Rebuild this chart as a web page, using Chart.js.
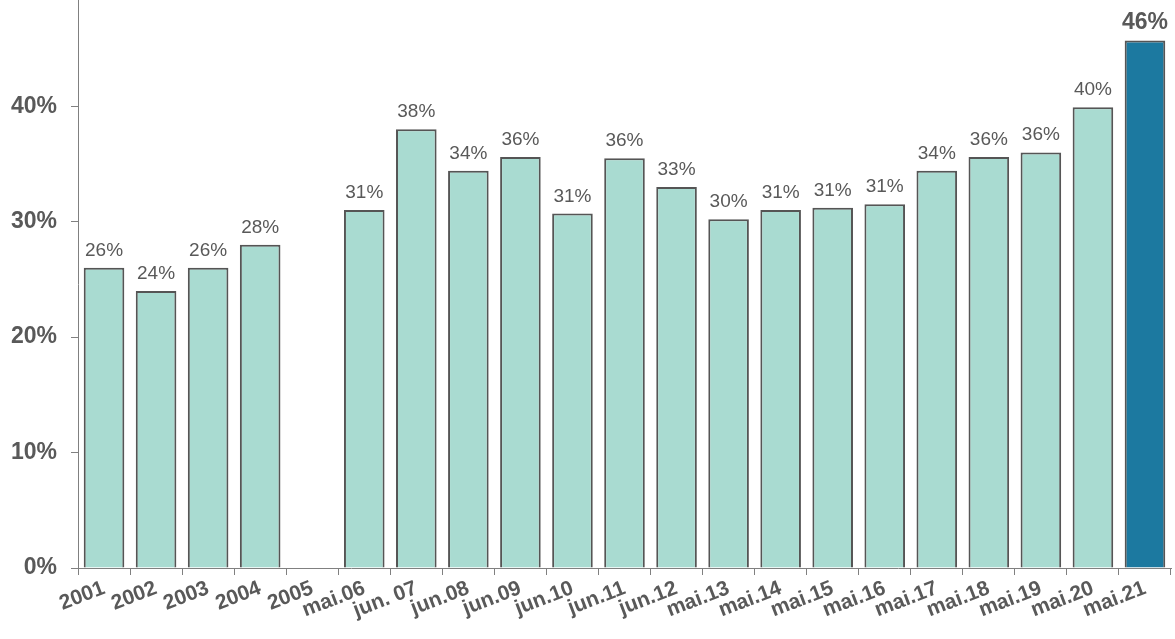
<!DOCTYPE html>
<html>
<head>
<meta charset="utf-8">
<script src="https://cdn.jsdelivr.net/npm/chart.js@4/dist/chart.umd.min.js"></script>
<style>
  html, body { margin: 0; padding: 0; background: #ffffff; }
  #wrap { width: 1175px; height: 639px; position: relative; }
</style>
</head>
<body>
<div id="wrap"><canvas id="c" width="1175" height="639"></canvas></div>
<script>
const categories = ["2001","2002","2003","2004","2005","mai.06","jun. 07","jun.08","jun.09","jun.10","jun.11","jun.12","mai.13","mai.14","mai.15","mai.16","mai.17","mai.18","mai.19","mai.20","mai.21"];
const values = [26.0, 24.0, 26.0, 28.0, null, 31.0, 38.0, 34.4, 35.6, 30.7, 35.5, 33.0, 30.2, 31.0, 31.2, 31.5, 34.4, 35.6, 36.0, 39.9, 45.7];
const valueLabels = ["26%","24%","26%","28%","","31%","38%","34%","36%","31%","36%","33%","30%","31%","31%","31%","34%","36%","36%","40%","46%"];
const yTickValues = [0, 10, 20, 30, 40];

const TEXT = "#595959";
const FILL = "#a9dbd1";
const HIGHLIGHT = "#1c79a0";
const lastIndex = categories.length - 1;

const barLabelPlugin = {
  id: "barLabels",
  afterDatasetsDraw(chart) {
    const ctx = chart.ctx;
    const meta = chart.getDatasetMeta(0);
    ctx.save();
    ctx.textAlign = "center";
    ctx.textBaseline = "alphabetic";
    ctx.fillStyle = TEXT;
    meta.data.forEach((bar, i) => {
      if (values[i] === null) return;
      const last = i === lastIndex;
      ctx.font = (last ? "bold 23px" : "19px") + " 'Liberation Sans', Arial, sans-serif";
      ctx.fillText(valueLabels[i], bar.x, bar.y - (last ? 11 : 12));
    });
    ctx.restore();
  }
};

new Chart(document.getElementById("c"), {
  type: "bar",
  data: {
    labels: categories,
    datasets: [{
      data: values,
      backgroundColor: categories.map((_, i) => i === lastIndex ? HIGHLIGHT : FILL),
      borderColor: "#555555",
      borderWidth: 2,
      borderSkipped: "bottom",
      barPercentage: 0.78,
      categoryPercentage: 1.0
    }]
  },
  options: {
    responsive: false,
    animation: false,
    devicePixelRatio: 1,
    layout: { padding: { left: 0, right: 4, top: 0, bottom: 0 } },
    plugins: { legend: { display: false }, tooltip: { enabled: false } },
    scales: {
      x: {
        grid: { display: true, drawOnChartArea: false, drawTicks: true, tickLength: 7, color: "#808080", offset: true },
        border: { display: true, color: "#808080", width: 1 },
        ticks: {
          autoSkip: false,
          minRotation: 21,
          maxRotation: 21,
          padding: 1,
          color: TEXT,
          font: { family: "'Liberation Sans', Arial, sans-serif", size: 21, weight: "bold" }
        },
        afterFit(scale) { scale.height = 71; scale.paddingLeft = 0; scale.paddingRight = 0; }
      },
      y: {
        min: 0,
        max: 49.2,
        grid: { display: true, drawOnChartArea: false, drawTicks: true, tickLength: 7, color: "#808080" },
        border: { display: true, color: "#808080", width: 1 },
        afterBuildTicks(scale) {
          scale.ticks = yTickValues.map(v => ({ value: v }));
        },
        ticks: {
          padding: 14,
          color: TEXT,
          font: { family: "'Liberation Sans', Arial, sans-serif", size: 23, weight: "bold" },
          callback: (v) => v + "%"
        },
        afterFit(scale) { scale.width = 78; scale.paddingTop = 0; scale.paddingBottom = 0; }
      }
    }
  },
  plugins: [barLabelPlugin]
});
</script>
</body>
</html>
